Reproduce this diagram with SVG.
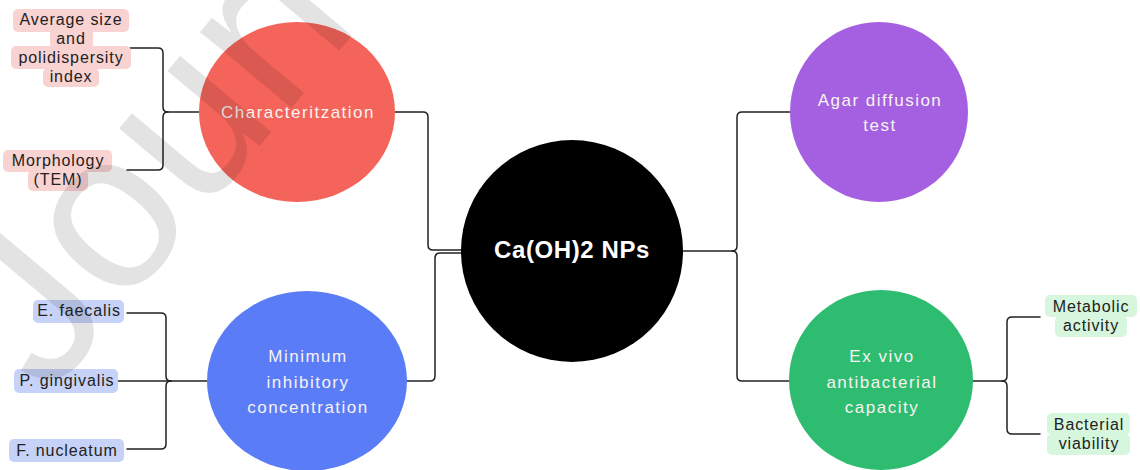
<svg xmlns="http://www.w3.org/2000/svg" width="1140" height="470" viewBox="0 0 1140 470">
<style>
.bg{fill:#ffffff}
.conn{fill:none;stroke:#222;stroke-width:1.5;stroke-linecap:round;stroke-linejoin:round}
.ct{font-family:"Liberation Sans",Arial,sans-serif;font-size:17px;letter-spacing:1.5px;fill:#f8f2f1;text-anchor:middle}
.main{font-family:"Liberation Sans",Arial,sans-serif;font-size:24px;font-weight:bold;letter-spacing:0.6px;fill:#ffffff;text-anchor:middle}
.lt{font-family:"Liberation Sans",Arial,sans-serif;font-size:16px;letter-spacing:0.9px;fill:#222;text-anchor:middle}
.pink{fill:#f9d3d2}
.blue{fill:#c7d2f8}
.green{fill:#d6f6dd}
.wm{font-family:"Liberation Sans",Arial,sans-serif;font-size:225px;fill:#000;fill-opacity:0.11}
</style>
<rect class="bg" x="0" y="0" width="1140" height="470"/>

<g id="connectors">
<path class="conn" d="M130,48 H158 Q163,48 163,53 V107 Q163,112 168,112 H199"/>
<path class="conn" d="M127,170 H158 Q163,170 163,165 V117 Q163,112 168,112"/>
<path class="conn" d="M127,313 H161 Q166,313 166,318 V376 Q166,381 171,381 H207"/>
<path class="conn" d="M127,449 H161 Q166,449 166,444 V386 Q166,381 171,381"/>
<path class="conn" d="M113,381 H171"/>
<path class="conn" d="M395,112 H423 Q428,112 428,117 V245 Q428,250 433,250 H462"/>
<path class="conn" d="M407,381 H430 Q435,381 435,376 V258 Q435,253 440,253 H462"/>
<path class="conn" d="M683,251 H732 Q737,251 737,246 V117 Q737,112 742,112 H790"/>
<path class="conn" d="M732,251 Q737,251 737,256 V376 Q737,381 742,381 H790"/>
<path class="conn" d="M972,381 H1002 Q1007,381 1007,376 V322 Q1007,317 1012,317 H1040"/>
<path class="conn" d="M1002,381 Q1007,381 1007,386 V429 Q1007,434 1012,434 H1040"/>
</g>

<g id="node-center">
<circle cx="572" cy="251" r="111" fill="#000"/>
<text class="main" x="572" y="258">Ca(OH)2 NPs</text>
</g>

<g id="node-characterization">
<ellipse cx="297" cy="112" rx="98" ry="90" fill="#f5645a"/>
<text class="ct" x="298" y="118">Characteritzation</text>
</g>

<g id="node-mic">
<ellipse cx="307" cy="381" rx="100" ry="90" fill="#5a7cf6"/>
<text class="ct" x="308" y="362">Minimum</text>
<text class="ct" x="308" y="388">inhibitory</text>
<text class="ct" x="308" y="413">concentration</text>
</g>

<g id="node-agar">
<ellipse cx="879" cy="112" rx="89" ry="90" fill="#a460e1"/>
<text class="ct" x="880" y="106">Agar diffusion</text>
<text class="ct" x="880" y="131">test</text>
</g>

<g id="node-exvivo">
<ellipse cx="881" cy="380" rx="92" ry="90" fill="#2ebd70"/>
<text class="ct" x="882" y="362">Ex vivo</text>
<text class="ct" x="882" y="388">antibacterial</text>
<text class="ct" x="882" y="413">capacity</text>
</g>

<g id="label-average">
<rect class="pink" x="13" y="9" width="116" height="23" rx="5"/>
<rect class="pink" x="50" y="30" width="43" height="18" rx="4"/>
<rect class="pink" x="11" y="46" width="120" height="23" rx="5"/>
<rect class="pink" x="43" y="68" width="56" height="19" rx="5"/>
<text class="lt" x="71" y="25">Average size</text>
<text class="lt" x="71" y="44">and</text>
<text class="lt" x="71" y="63">polidispersity</text>
<text class="lt" x="71" y="81.5">index</text>
</g>

<g id="label-morphology">
<rect class="pink" x="3" y="150" width="109" height="22" rx="5"/>
<rect class="pink" x="28" y="170" width="60" height="21" rx="5"/>
<text class="lt" x="58" y="166">Morphology</text>
<text class="lt" x="58" y="185">(TEM)</text>
</g>

<g id="label-efaecalis">
<rect class="blue" x="33" y="300" width="91" height="23" rx="5"/>
<text class="lt" x="79" y="316">E. faecalis</text>
</g>

<g id="label-pgingivalis">
<rect class="blue" x="14" y="369" width="104" height="24" rx="5"/>
<text class="lt" x="67" y="386">P. gingivalis</text>
</g>

<g id="label-fnucleatum">
<rect class="blue" x="9" y="439" width="115" height="23" rx="5"/>
<text class="lt" x="67" y="456">F. nucleatum</text>
</g>

<g id="label-metabolic">
<rect class="green" x="1045" y="295" width="92" height="22" rx="5"/>
<rect class="green" x="1055" y="316" width="72" height="21" rx="5"/>
<text class="lt" x="1091" y="311.5">Metabolic</text>
<text class="lt" x="1091" y="330.5">activity</text>
</g>

<g id="label-bacterial">
<rect class="green" x="1047" y="413" width="83" height="22" rx="5"/>
<rect class="green" x="1047" y="434" width="83" height="21" rx="5"/>
<text class="lt" x="1089" y="429.5">Bacterial</text>
<text class="lt" x="1089" y="449">viability</text>
</g>

<g id="watermark">
<text class="wm" x="0" y="0" transform="translate(48,398) rotate(-50)">Journ</text>
</g>
</svg>
